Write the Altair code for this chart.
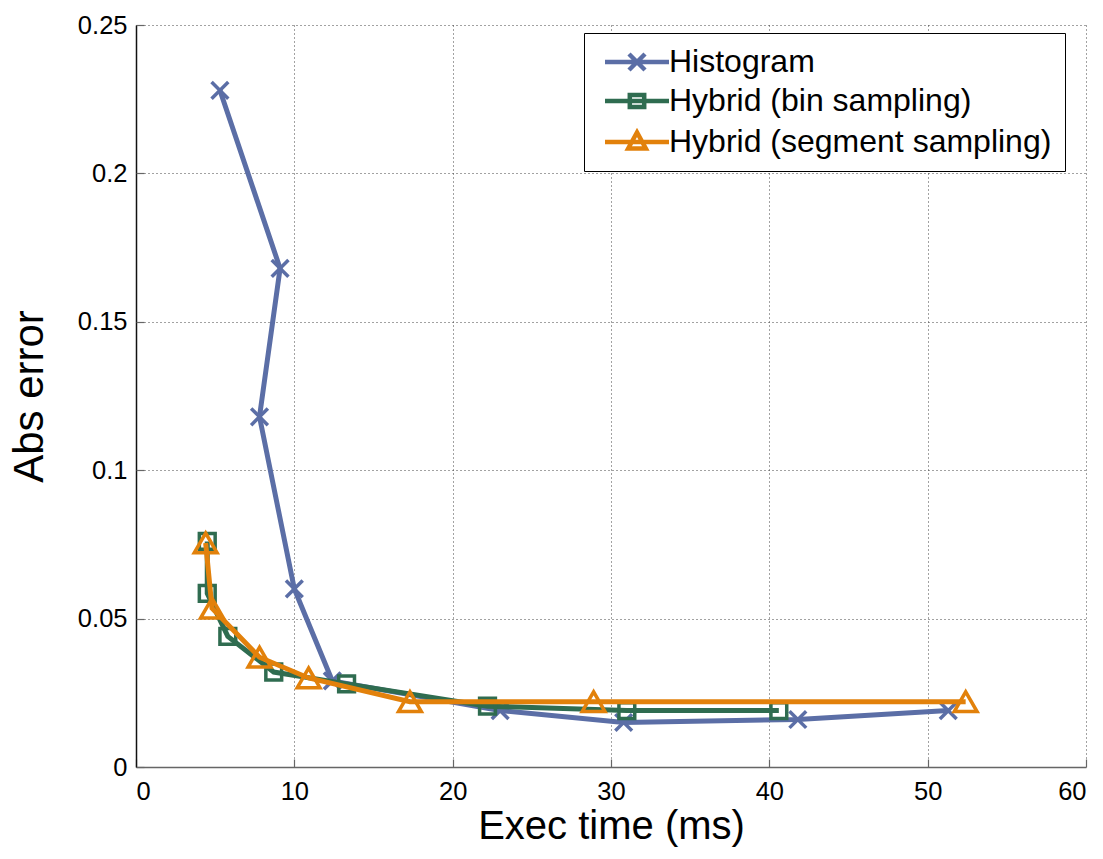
import altair as alt
import pandas as pd

# ---- data ----
hist_x = [5.3, 9.1, 7.8, 10.0, 12.4, 23.0, 30.8, 41.8, 51.3]
hist_y = [0.228, 0.168, 0.118, 0.060, 0.029, 0.019, 0.015, 0.016, 0.019]

bin_x = [4.5, 4.5, 5.8, 8.7, 13.3, 22.2, 31.0, 40.6]
bin_y = [0.076, 0.0585, 0.044, 0.032, 0.028, 0.0205, 0.019, 0.019]

seg_x = [4.4, 4.8, 7.8, 10.9, 17.3, 28.9, 52.4]
seg_y = [0.0755, 0.0535, 0.037, 0.030, 0.022, 0.022, 0.022]

series_names = ["Histogram", "Hybrid (bin sampling)", "Hybrid (segment sampling)"]
series_colors = ["#5b6ea6", "#2f6c50", "#e2810b"]

x_ticks = [0, 10, 20, 30, 40, 50, 60]
y_ticks = [0, 0.05, 0.1, 0.15, 0.2, 0.25]

FONT = "Liberation Sans"

plot_shapes = ["M-1,-1L1,1M1,-1L-1,1", "square", "triangle-up"]
plot_sizes = [280, 250, 520]
legend_shapes = [
    "M-1,0H7M2,-1L4,1M4,-1L2,1",
    "M-1,0H7M2.1,-0.75H3.9V0.75H2.1Z",
    "M-1,0H7M3,-1.2L4.1,0.8H1.9Z",
]

xs = [hist_x, bin_x, seg_x]
ys = [hist_y, bin_y, seg_y]

x_enc = alt.X("x:Q", scale=alt.Scale(domain=[0, 60], nice=False),
              axis=alt.Axis(values=x_ticks, title="Exec time (ms)", format="d",
                            domainColor="#666"))
y_enc = alt.Y("y:Q", scale=alt.Scale(domain=[0, 0.25], nice=False),
              axis=alt.Axis(values=y_ticks, title="Abs error", format="~g",
                            domainColor="#111"))

layers = []
for k in range(3):
    df = pd.DataFrame({"x": xs[k], "y": ys[k], "i": list(range(len(xs[k]))),
                       "series": series_names[k]})
    base = alt.Chart(df).encode(x=x_enc, y=y_enc, order=alt.Order("i:Q"))
    line = base.mark_line(color=series_colors[k], strokeWidth=5, clip=True)
    pts = base.mark_point(shape=plot_shapes[k], size=plot_sizes[k], filled=False,
                          color=series_colors[k], strokeWidth=3.5, opacity=1)
    layers += [line, pts]

data_layer = alt.layer(*layers)

# legend-only layer (no rows drawn); its axes draw the inward ticks
leg_opts = dict(title=None, orient="none", legendX=448, legendY=8,
                labelFontSize=32, labelFont=FONT, labelColor="black",
                labelOffset=40, symbolStrokeWidth=4.5, symbolSize=256,
                rowPadding=6, padding=13, strokeColor="black",
                fillColor="white", labelLimit=700)
leg_df = pd.DataFrame({"x": hist_x, "y": hist_y, "series": "Histogram"})
legend_layer = alt.Chart(leg_df).transform_filter("false").mark_point(
    filled=False, strokeWidth=4.5, size=256, opacity=1
).encode(
    x=alt.X("x:Q", scale=alt.Scale(domain=[0, 60], nice=False),
            axis=alt.Axis(values=x_ticks, orient="top", offset=-742, labels=False,
                          domain=False, grid=False, ticks=True, tickSize=8,
                          tickColor="#666", tickWidth=1.2, title=None)),
    y=alt.Y("y:Q", scale=alt.Scale(domain=[0, 0.25], nice=False),
            axis=alt.Axis(values=y_ticks, orient="right", offset=-950, labels=False,
                          domain=False, grid=False, ticks=True, tickSize=8,
                          tickColor="#666", tickWidth=1.2, title=None)),
    color=alt.Color("series:N",
                    scale=alt.Scale(domain=series_names, range=series_colors),
                    legend=alt.Legend(**leg_opts)),
    shape=alt.Shape("series:N",
                    scale=alt.Scale(domain=series_names, range=legend_shapes),
                    legend=alt.Legend(**leg_opts)),
)

chart = alt.layer(data_layer, legend_layer).resolve_axis(
    x="independent", y="independent"
).properties(
    width=950, height=742,
    padding={"left": 136, "top": 25, "right": 17, "bottom": 92},
    autosize=alt.AutoSizeParams(type="none"),
    background="white",
).configure_view(strokeWidth=0).configure_axis(
    labelFont=FONT, titleFont=FONT, labelFontSize=25.5,
    labelColor="black", titleColor="black", titleFontWeight="normal",
    grid=True, gridColor="#444", gridDash=[1, 3], gridWidth=1, gridOpacity=1,
    domain=True, domainWidth=1.5, ticks=False,
).configure_axisX(labelPadding=12, titlePadding=2, titleFontSize=40).configure_axisY(
    labelPadding=9, titlePadding=26, titleFontSize=42)

chart.save("out.html", embed_options={"renderer": "svg", "actions": False})
